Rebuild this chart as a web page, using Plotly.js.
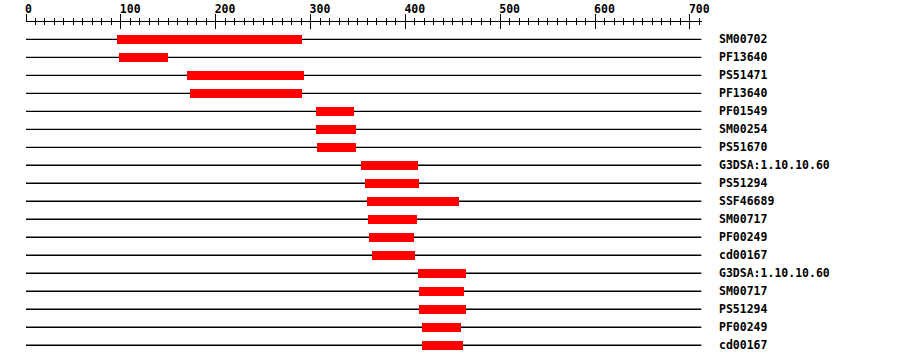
<!DOCTYPE html>
<html><head><meta charset="utf-8">
<script src="https://cdn.plot.ly/plotly-3.0.1.min.js"></script>
<style>html,body{margin:0;padding:0;background:#fff}</style>
</head><body>
<div id="chart" style="width:900px;height:364px"></div>
<script>
const labels = ["SM00702","PF13640","PS51471","PF13640","PF01549","SM00254","PS51670","G3DSA:1.10.10.60","PS51294","SSF46689","SM00717","PF00249","cd00167","G3DSA:1.10.10.60","SM00717","PS51294","PF00249","cd00167"];
const starts = [96,98,170,173,306,306,307,353,357,359,361,362,365,413,414,414,417,417];
const ends   = [291,150,293,291,346,348,348,413,414,457,412,409,410,464,462,464,459,461];
const seqLength = 712;
const axisRange = [0, 712.7];

const rows = labels.map((_, i) => i);
const font = {family: "DejaVu Sans Mono", size: 11.5, color: "#000", weight: "bold"};

const bars = {
  type: "bar", orientation: "h",
  y: rows, base: starts, x: ends.map((e, i) => e - starts[i]),
  width: 0.5, marker: {color: "#ff0000", line: {width: 0}},
  hoverinfo: "skip", showlegend: false
};
const dummy = {type: "scatter", mode: "markers", x: [0], y: [0], xaxis: "x2",
  marker: {opacity: 0}, hoverinfo: "skip", showlegend: false};

const shapes = rows.map(i => ({type: "line", xref: "x", yref: "y", x0: 0, x1: seqLength, y0: i, y1: i,
  line: {color: "#000", width: 1.3}, layer: "below"}));

const common = {range: axisRange, dtick: 100, tick0: 0, tickcolor: "#000", tickwidth: 1, ticklen: 7,
  showgrid: false, zeroline: false, fixedrange: true};

const layout = {
  width: 900, height: 364,
  margin: {l: 26, r: 198, t: 22, b: 4},
  paper_bgcolor: "#fff", plot_bgcolor: "#fff",
  bargap: 0,
  xaxis: Object.assign({}, common, {side: "top", ticks: "outside", showline: true, linecolor: "#000", linewidth: 1,
    ticklabelposition: "outside right", tickfont: font, ticklabelstandoff: 3, ticklabelshift: -2,
    minor: {dtick: 10, tick0: 0, ticks: "outside", ticklen: 3, tickcolor: "#000", tickwidth: 1}}),
  xaxis2: Object.assign({}, common, {side: "top", overlaying: "x", anchor: "y", ticks: "inside", showticklabels: false,
    showline: false, minor: {dtick: 10, tick0: 0, ticks: "inside", ticklen: 3, tickcolor: "#000", tickwidth: 1}}),
  yaxis: {range: [17.82, -0.961], side: "right", tickmode: "array", tickvals: rows, ticktext: labels,
    ticks: "", showline: false, showgrid: false, zeroline: false, tickfont: font, ticklabelstandoff: 16, fixedrange: true},
  shapes: shapes
};
Plotly.newPlot("chart", [bars, dummy], layout, {displayModeBar: false, staticPlot: true});
</script>
</body></html>
